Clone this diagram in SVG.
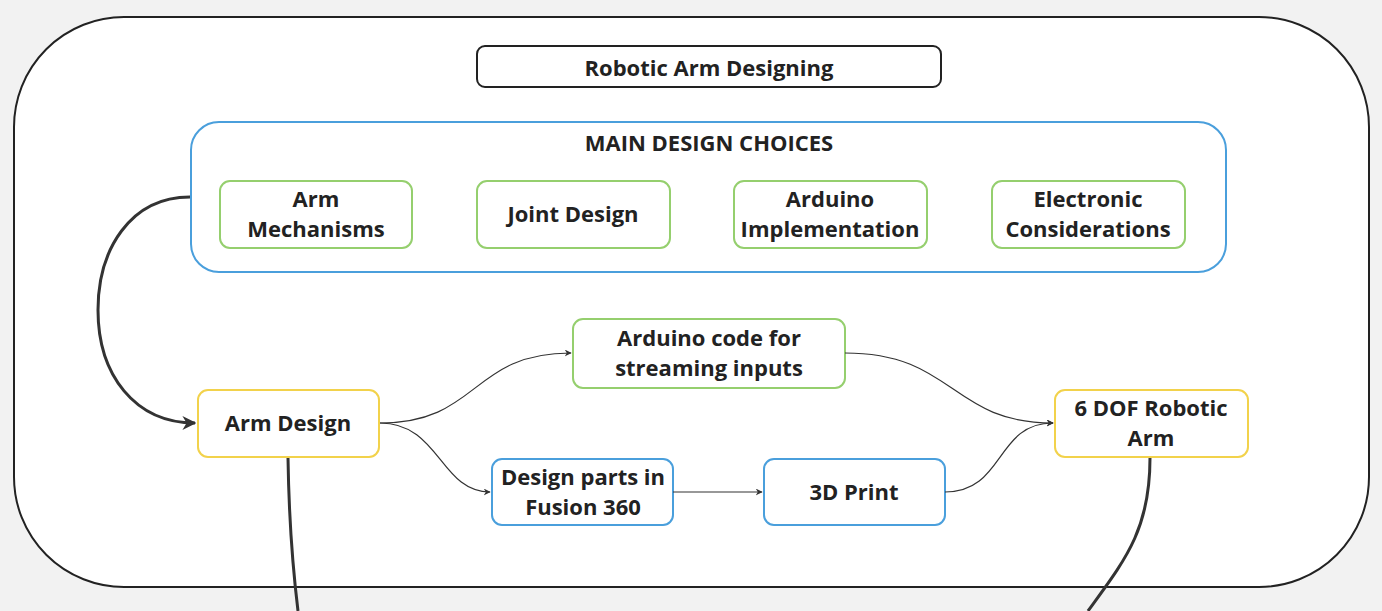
<svg xmlns="http://www.w3.org/2000/svg" width="1382" height="611" viewBox="0 0 1382 611">
<defs>
<style>
text{font-family:"Open Sans","Noto Sans","DejaVu Sans",sans-serif;font-weight:700;fill:#222;text-anchor:middle;font-size:22px}
.box{fill:#fff;stroke-width:2}
.g{stroke:#95cf6e}
.b{stroke:#4a9fdc}
.y{stroke:#f2d24b}
.c{fill:none;stroke:#333;stroke-width:1.2}
.t{fill:none;stroke:#333;stroke-width:3}
</style>
<marker id="a" viewBox="0 0 10 10" refX="9" refY="5" markerWidth="7" markerHeight="7" orient="auto" markerUnits="userSpaceOnUse"><path d="M0,0 L10,5 L0,10 L3,5 Z" fill="#333"/></marker>
<marker id="at" viewBox="0 0 10 10" refX="9" refY="5" markerWidth="14" markerHeight="14" orient="auto" markerUnits="userSpaceOnUse"><path d="M0,0 L10,5 L0,10 L3,5 Z" fill="#333"/></marker>
</defs>
<rect width="1382" height="611" fill="#f2f2f2"/>
<g id="frame"><rect x="14" y="17" width="1355" height="570" rx="110" fill="#fff" stroke="#222" stroke-width="2"/></g>
<g id="title"><rect x="477" y="46" width="464" height="41" rx="8" fill="#fff" stroke="#222" stroke-width="2"/><text x="709" y="76" font-size="24">Robotic Arm Designing</text></g>
<g id="main"><rect class="box b" x="191" y="122" width="1035" height="150" rx="28"/><text x="709" y="151">MAIN DESIGN CHOICES</text></g>
<g id="arm-mech"><rect class="box g" x="220" y="181" width="192" height="67" rx="10"/><text x="316" y="207">Arm</text><text x="316" y="237">Mechanisms</text></g>
<g id="joint"><rect class="box g" x="477" y="181" width="193" height="67" rx="10"/><text x="573" y="222">Joint Design</text></g>
<g id="arduino-impl"><rect class="box g" x="734" y="181" width="193" height="67" rx="10"/><text x="830" y="207">Arduino</text><text x="830" y="237">Implementation</text></g>
<g id="electronic"><rect class="box g" x="992" y="181" width="193" height="67" rx="10"/><text x="1088" y="207">Electronic</text><text x="1088" y="237">Considerations</text></g>
<g id="arm-design"><rect class="box y" x="198" y="390" width="181" height="67" rx="10"/><text x="288" y="431">Arm Design</text></g>
<g id="arduino-code"><rect class="box g" x="573" y="319" width="272" height="69" rx="10"/><text x="709" y="346">Arduino code for</text><text x="709" y="376">streaming inputs</text></g>
<g id="fusion"><rect class="box b" x="492" y="459" width="181" height="66" rx="10"/><text x="583" y="485">Design parts in</text><text x="583" y="515">Fusion 360</text></g>
<g id="print"><rect class="box b" x="764" y="459" width="181" height="66" rx="10"/><text x="854" y="500">3D Print</text></g>
<g id="robot"><rect class="box y" x="1055" y="390" width="193" height="67" rx="10"/><text x="1151" y="416">6 DOF Robotic</text><text x="1151" y="446">Arm</text></g>
<g id="connectors">
<path class="t" d="M190,197 C130,197 98,250 98,310 C98,375 135,423 195,423" marker-end="url(#at)"/>
<path class="c" d="M380,423 C480,423 470,353 571,353" marker-end="url(#a)"/>
<path class="c" d="M380,423 C440,423 440,492 490,492" marker-end="url(#a)"/>
<path class="c" d="M673,492 L762,492" marker-end="url(#a)"/>
<path class="c" d="M845,353 C955,353 950,423 1053,423" marker-end="url(#a)"/>
<path class="c" d="M945,492 C1005,492 995,423 1053,423" marker-end="url(#a)"/>
<path class="t" d="M288,458 C289,525 293,570 298,611"/>
<path class="t" d="M1150,458 C1150,530 1125,560 1088,611"/>
</g>
</svg>
